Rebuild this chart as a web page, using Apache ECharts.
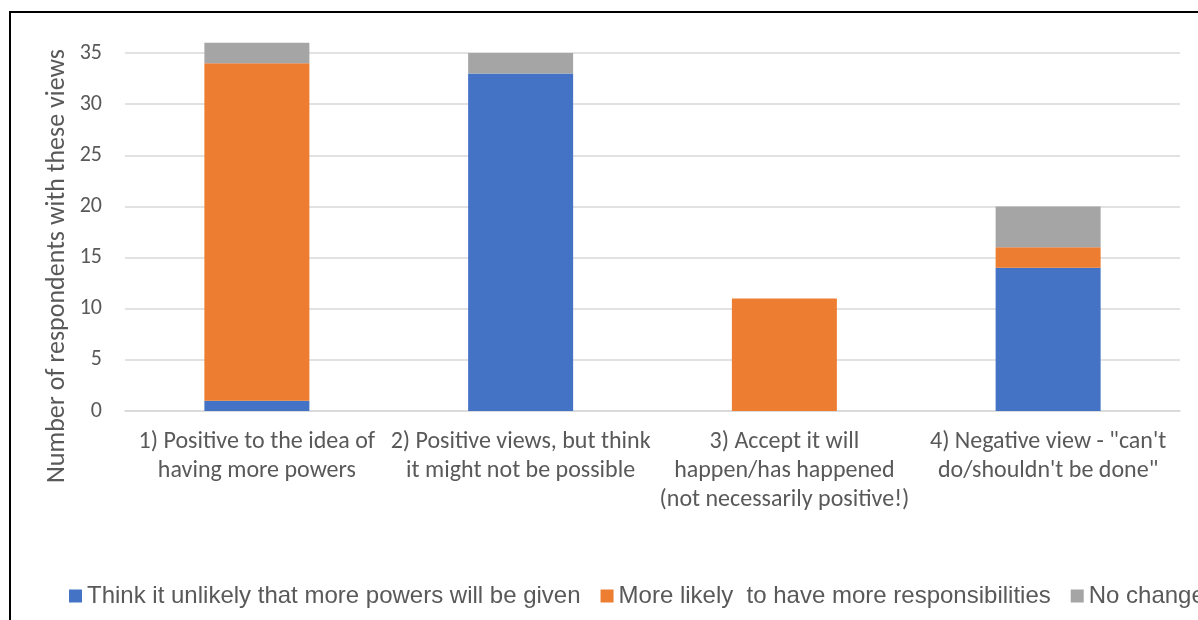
<!DOCTYPE html>
<html>
<head>
<meta charset="utf-8">
<script src="https://cdn.jsdelivr.net/npm/echarts@6/dist/echarts.min.js"></script>
<style>
html,body{margin:0;padding:0;background:#fff;}
#chart{width:1198px;height:620px;}
</style>
</head>
<body>
<div id="chart"></div>
<script>
const categories = [
  '1) Positive to the idea of\nhaving more powers',
  '2) Positive views, but think\nit might not be possible',
  '3) Accept it will\nhappen/has happened\n(not necessarily positive!)',
  '4) Negative view - "can\'t\ndo/shouldn\'t be done"'
];
const seriesNames = [
  'Think it unlikely that more powers will be given',
  'More likely  to have more responsibilities',
  'No change'
];
const unlikelyValues = [1, 33, 0, 14];
const moreResponsibilitiesValues = [33, 0, 11, 2];
const noChangeValues = [2, 2, 0, 4];
const colors = ['#4472C4', '#ED7D31', '#A5A5A5'];
const yAxisTitle = 'Number of respondents with these views';

const calibriLike = 'Carlito, Lato, sans-serif';
const chart = echarts.init(document.getElementById('chart'));
const seriesData = [unlikelyValues, moreResponsibilitiesValues, noChangeValues];

chart.setOption({
  animation: false,
  color: colors,
  grid: { left: 125, right: 18, top: 53, bottom: 209, containLabel: false },
  xAxis: {
    type: 'category',
    data: categories,
    axisLine: { show: true, lineStyle: { color: '#d9d9d9', width: 1.5 } },
    axisTick: { show: false },
    axisLabel: {
      interval: 0,
      color: '#595959',
      fontFamily: calibriLike,
      fontSize: 24,
      lineHeight: 29,
      margin: 16,
      align: 'center'
    }
  },
  yAxis: {
    type: 'value',
    min: 0,
    max: 35,
    interval: 5,
    axisLine: { show: false },
    axisTick: { show: false },
    splitLine: { lineStyle: { color: '#d9d9d9', width: 1.5 } },
    axisLabel: {
      color: '#595959',
      fontFamily: calibriLike,
      fontSize: 22,
      margin: 23
    }
  },
  legend: {
    left: 64,
    top: 579,
    width: 1600,
    icon: 'rect',
    itemWidth: 13,
    itemHeight: 13,
    itemGap: 20,
    textStyle: { color: '#595959', fontFamily: 'Liberation Sans, Arial, sans-serif', fontSize: 24 },
    data: seriesNames
  },
  graphic: [
    {
      type: 'rect',
      shape: { x: 10, y: 12, width: 1400, height: 800 },
      style: { fill: 'none', stroke: '#000', lineWidth: 2 },
      silent: true
    },
    {
      type: 'text',
      x: 57,
      y: 266,
      rotation: Math.PI / 2,
      style: {
        text: yAxisTitle,
        fill: '#595959',
        font: '26px ' + calibriLike,
        textAlign: 'center',
        textVerticalAlign: 'middle'
      }
    }
  ],
  series: seriesNames.map((name, i) => ({
    name: name,
    type: 'bar',
    stack: 'total',
    barWidth: 105,
    clip: false,
    data: seriesData[i]
  }))
});
</script>
</body>
</html>
